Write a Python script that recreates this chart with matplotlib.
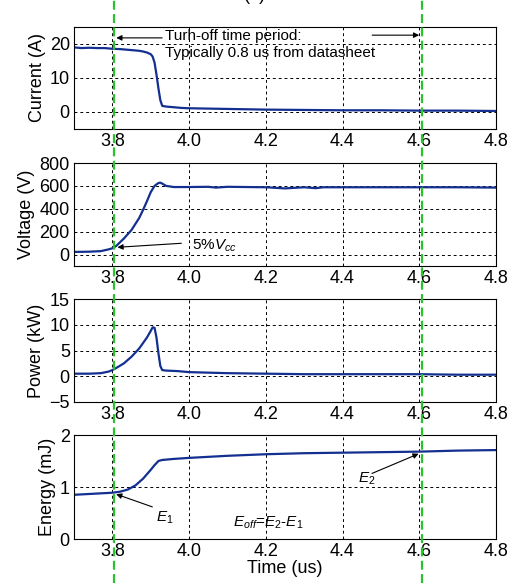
import matplotlib
matplotlib.use("Agg")
import matplotlib.pyplot as plt
from matplotlib.lines import Line2D

plt.rcParams['font.family'] = ['Liberation Sans', 'DejaVu Sans']
plt.rcParams['mathtext.fontset'] = 'custom'
plt.rcParams['mathtext.rm'] = 'Liberation Sans'
plt.rcParams['mathtext.it'] = 'Liberation Sans:italic'

# ---- data ----
t_current = [3.70, 3.72, 3.74, 3.76, 3.78, 3.80, 3.82, 3.84, 3.86, 3.87, 3.88, 3.89, 3.900, 3.905,
             3.910, 3.915, 3.920, 3.925, 3.930, 3.94, 3.96, 3.98, 4.00, 4.05, 4.10, 4.15, 4.20,
             4.30, 4.40, 4.50, 4.60, 4.70, 4.80]
current = [19.0, 18.8, 18.9, 18.8, 18.8, 18.6, 18.5, 18.3, 18.1, 18.0, 17.8, 17.5, 17.0, 16.3,
           14.5, 11.0, 7.0, 3.5, 1.8, 1.6, 1.4, 1.2, 1.1, 1.0, 0.9, 0.8, 0.7, 0.6, 0.5, 0.5, 0.4,
           0.4, 0.3]

t_voltage = [3.70, 3.74, 3.77, 3.79, 3.80, 3.81, 3.83, 3.85, 3.87, 3.88, 3.89, 3.90, 3.91, 3.92,
             3.925, 3.93, 3.94, 3.96, 4.00, 4.05, 4.07, 4.10, 4.20, 4.25, 4.30, 4.33, 4.35, 4.40,
             4.50, 4.60, 4.70, 4.80]
voltage = [23, 25, 30, 45, 55, 75, 140, 215, 320, 390, 465, 545, 600, 625,
           628, 620, 600, 590, 590, 592, 585, 592, 588, 578, 588, 580, 588, 588, 588, 588, 588, 585]

t_power = [3.70, 3.74, 3.77, 3.79, 3.80, 3.81, 3.83, 3.85, 3.87, 3.89, 3.90, 3.905, 3.910, 3.915,
           3.920, 3.925, 3.930, 3.94, 3.97, 4.00, 4.10, 4.20, 4.30, 4.40, 4.50, 4.60, 4.70, 4.80]
power = [0.5, 0.5, 0.6, 0.9, 1.2, 1.6, 2.5, 3.8, 5.4, 7.5, 8.8, 9.5, 9.4, 7.5,
         4.5, 2.0, 1.2, 1.1, 1.0, 0.8, 0.6, 0.5, 0.4, 0.4, 0.4, 0.4, 0.3, 0.3]

t_energy = [3.70, 3.75, 3.80, 3.82, 3.84, 3.86, 3.88, 3.90, 3.91, 3.92, 3.93, 3.96, 4.00, 4.10,
            4.20, 4.30, 4.40, 4.50, 4.60, 4.70, 4.80]
energy = [0.85, 0.87, 0.89, 0.91, 0.95, 1.03, 1.16, 1.33, 1.42, 1.50, 1.52, 1.54, 1.56, 1.60,
          1.63, 1.65, 1.66, 1.67, 1.68, 1.70, 1.71]

x_ticks = [3.8, 4.0, 4.2, 4.4, 4.6, 4.8]
x_tick_labels = ['3.8', '4.0', '4.2', '4.4', '4.6', '4.8']
t_marks = [3.803, 4.607]

panels = [
    (t_current, current, 'Current (A)', (-5, 25), [0, 10, 20]),
    (t_voltage, voltage, 'Voltage (V)', (-100, 800), [0, 200, 400, 600, 800]),
    (t_power, power, 'Power (kW)', (-5, 15), [-5, 0, 5, 10, 15]),
    (t_energy, energy, 'Energy (mJ)', (0, 2), [0, 1, 2]),
]

W, H = 509, 583
fig = plt.figure(figsize=(W / 100, H / 100), dpi=100)
line_color = '#132f8f'

# axes boxes in pixel coordinates: (top, bottom)
boxes = [(27, 129), (163, 266), (299, 402), (435, 539)]
x0, x1 = 74, 496
axes = []
for (t, y, lab, ylim, yt), (top, bot) in zip(panels, boxes):
    ax = fig.add_axes([x0 / W, 1 - bot / H, (x1 - x0) / W, (bot - top) / H])
    ax.plot(t, y, color=line_color, lw=1.6)
    ax.set_xlim(3.7, 4.8)
    ax.set_ylim(*ylim)
    ax.set_yticks(yt)
    ax.set_xticks(x_ticks)
    ax.set_xticklabels(x_tick_labels)
    ax.grid(True, color='black', linestyle=(0, (3, 3)), lw=0.7)
    ax.tick_params(labelsize=13, length=0, pad=3)
    ax.set_ylabel(lab, fontsize=13, labelpad=3)
    for s in ax.spines.values():
        s.set_linewidth(0.8)
    axes.append(ax)

axes[-1].set_xlabel('Time (us)', fontsize=13, labelpad=0)

# green marker lines across the whole figure
for tm in t_marks:
    xp = axes[0].transData.transform((tm, 0))[0]
    xf = xp / fig.bbox.width
    fig.add_artist(Line2D([xf, xf], [0, 1], transform=fig.transFigure,
                          color='#2ec02e', lw=1.6, linestyle=(0, (4, 2))))

# title (cut off at the top edge, as in the reference)
fig.text(0.5, 1.0 + 5 / H, '(a)', ha='center', va='center', fontsize=13)

arrow = dict(arrowstyle='-|>', color='black', lw=0.8, mutation_scale=8)

# annotations
a0 = axes[0]
a0.text(3.937, 22.4, 'Turh-off time period:', fontsize=11, va='center')
a0.text(3.937, 17.4, 'Typically 0.8 us from datasheet', fontsize=11, va='center')
a0.annotate('', xy=(t_marks[0], 21.8), xytext=(3.937, 21.8), arrowprops=arrow)
a0.annotate('', xy=(t_marks[1], 22.6), xytext=(4.47, 22.6), arrowprops=arrow)

a1 = axes[1]
a1.annotate('', xy=(3.806, 62), xytext=(3.987, 100), arrowprops=arrow)
a1.text(4.008, 74, r'5%$V_{cc}$', fontsize=11, va='center')

a3 = axes[3]
a3.annotate('', xy=(3.803, 0.88), xytext=(3.911, 0.6), arrowprops=arrow)
a3.text(3.915, 0.40, r'$E_1$', fontsize=11, va='center')
a3.annotate('', xy=(4.605, 1.66), xytext=(4.47, 1.24), arrowprops=arrow)
a3.text(4.44, 1.15, r'$E_2$', fontsize=11, va='center')
a3.text(4.115, 0.32, r'$E_{off}$=$E_2$-$E_1$', fontsize=11, va='center')

fig.savefig('out.png', dpi=100)
